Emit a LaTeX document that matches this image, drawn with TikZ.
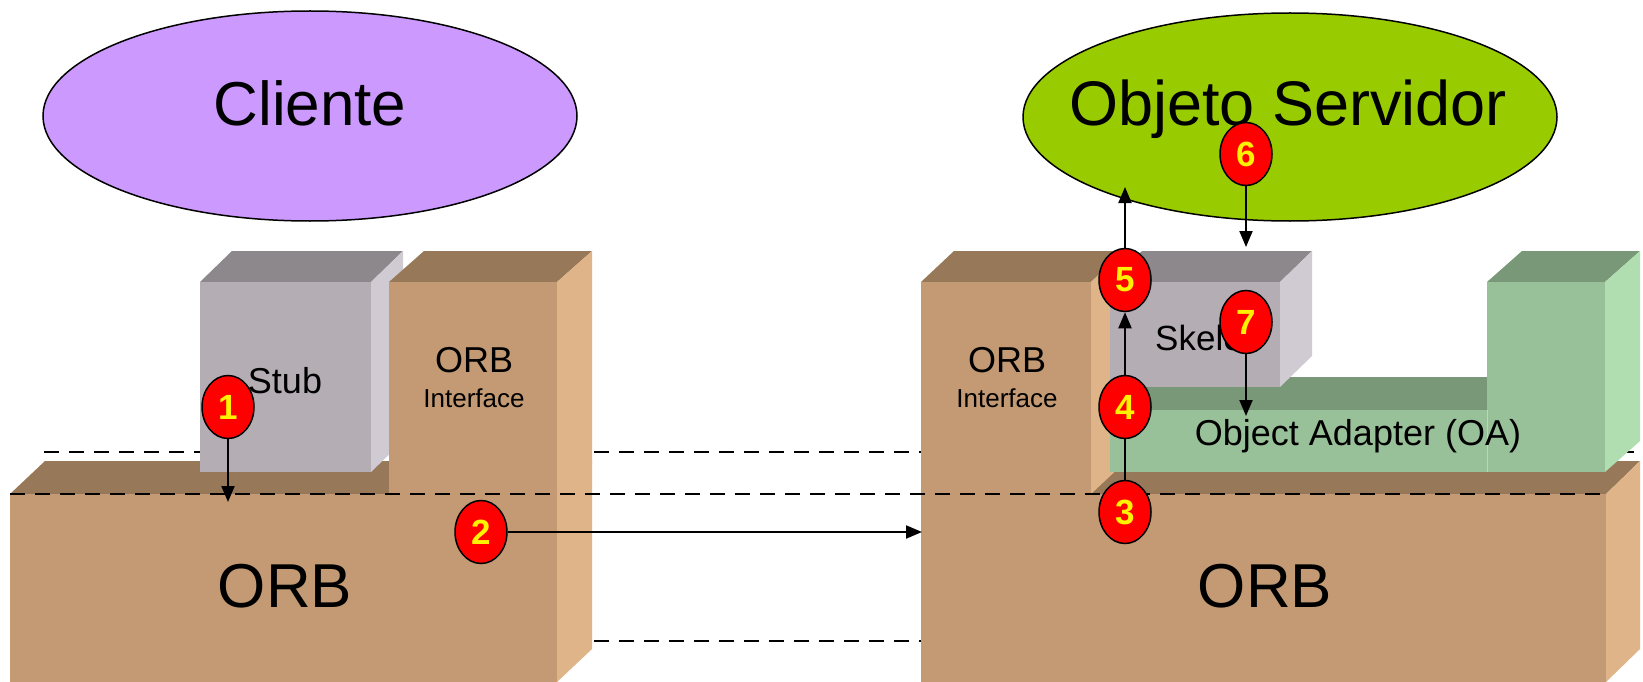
\documentclass[tikz,border=0pt]{standalone}
\usepackage{fontspec}
\setmainfont{Liberation Sans}
\usetikzlibrary{arrows.meta,shapes.geometric}
\definecolor{orbF}{RGB}{195,154,115}
\definecolor{orbT}{RGB}{151,120,88}
\definecolor{orbS}{RGB}{223,180,136}
\definecolor{stbF}{RGB}{180,174,180}
\definecolor{stbT}{RGB}{140,136,140}
\definecolor{stbS}{RGB}{208,202,211}
\definecolor{oaF}{RGB}{153,193,153}
\definecolor{oaT}{RGB}{120,152,120}
\definecolor{oaS}{RGB}{177,222,177}
\definecolor{cliFill}{RGB}{204,153,255}
\definecolor{srvFill}{RGB}{153,204,0}
\newcommand\fsz[1]{\fontsize{#1}{#1}\selectfont}
% cuboid: x1 y1 (front top-left), x2 y2 (front bottom-right), dx dy (depth), front, top, side colours
\newcommand\cuboid[9]{%
  \fill[#8] (#1,#2) -- (#1+#5,#2-#6) -- (#3+#5,#2-#6) -- (#3,#2) -- cycle;
  \fill[#9] (#3,#2) -- (#3+#5,#2-#6) -- (#3+#5,#4-#6) -- (#3,#4) -- cycle;
  \fill[#7] (#1,#2) rectangle (#3,#4);}
\begin{document}
\begin{tikzpicture}[x=1pt,y=-1pt,
  lab/.style={inner sep=0pt,text=black},
  num/.style={ellipse,draw=black,line width=1.5pt,fill=red,minimum width=52pt,
    minimum height=63pt,inner sep=0pt,text=yellow,font={\fsz{35}\bfseries}},
  blob/.style={ellipse,draw=black,line width=1.5pt,inner sep=0pt},
  dash line/.style={line width=2pt,dash pattern=on 15pt off 10pt},
  arr/.style={line width=2pt,-{Triangle[length=16pt,width=13pt]}},
  plain/.style={line width=2pt}]
\useasboundingbox (0,0) rectangle (1643,682);
\fill[white] (0,0) rectangle (1643,682);
% dashed lines behind the blocks
\draw[dash line] (44,452) -- (1643,452);
\draw[dash line] (44,641) -- (1643,641);
% ellipses
\node[blob,fill=cliFill,minimum width=534pt,minimum height=210pt] (cliE) at (310,116) {};
\node[blob,fill=srvFill,minimum width=534pt,minimum height=208pt] (srvE) at (1290,117) {};
\node[lab,anchor=base] (cliente) at (310,125) {\fsz{62}Cliente};
\node[lab,anchor=base] (servidor) at (1288,125) {\fsz{63}Objeto Servidor};
% left side blocks
\cuboid{10}{494}{557}{682}{35}{33}{orbF}{orbT}{orbS}
\cuboid{200}{282}{371}{472}{32}{31}{stbF}{stbT}{stbS}
\cuboid{389}{282}{557}{494}{35}{31}{orbF}{orbT}{orbS}
% right side blocks
\cuboid{921}{494}{1606}{682}{34}{33}{orbF}{orbT}{orbS}
\cuboid{921}{282}{1091}{494}{33}{31}{orbF}{orbT}{orbS}
\fill[oaT] (1110,410) -- (1143,377) -- (1522,377) -- (1487,410) -- cycle;
\fill[oaF] (1110,410) rectangle (1487,472);
\cuboid{1487}{282}{1605}{472}{35}{31}{oaF}{oaT}{oaS}
\draw[white,opacity=0.35,line width=1pt] (1487,410) -- (1487,472);
\cuboid{1110}{282}{1280}{387}{32}{31}{stbF}{stbT}{stbS}
% labels
\node[lab,anchor=base] (stub) at (285,393) {\fsz{36}Stub};
\node[lab,anchor=base] (orbIL) at (474,372) {\fsz{36}ORB};
\node[lab,anchor=base] (ifL) at (474,407) {\fsz{26}Interface};
\node[lab,anchor=base] (orbIR) at (1007,372) {\fsz{36}ORB};
\node[lab,anchor=base] (ifR) at (1007,407) {\fsz{26}Interface};
\node[lab,anchor=base] (orbL) at (285,607) {\fsz{62}ORB};
\node[lab,anchor=base] (orbR) at (1265,607) {\fsz{62}ORB};
\node[lab,anchor=base] (oa) at (1358,445) {\fsz{36}Object Adapter (OA)};
\begin{scope}
  \clip (1110,282) rectangle (1246,387);
  \node[lab,anchor=base west] (skel) at (1155,350) {\fsz{35}Skeleton};
\end{scope}
% dashed line over the blocks
\draw[dash line] (10,494) -- (1606,494);
% numbered markers
\node[num] (c1) at (228,407) {1};
\node[num] (c2) at (481,532) {2};
\node[num] (c3) at (1125,512) {3};
\node[num] (c4) at (1125,407) {4};
\node[num] (c5) at (1125,280) {5};
\node[num] (c6) at (1246,154) {6};
\node[num] (c7) at (1246,322) {7};
\coordinate (t1) at (228,502);
\coordinate (t2) at (922,532);
\coordinate (t5) at (1125,187);
\coordinate (t6) at (1246,247);
\coordinate (t7) at (1246,416);
\draw[arr] (c1) -- (t1);
\draw[arr] (c2) -- (t2);
\draw[plain] (c3) -- (c4);
\draw[arr] (c4) -- (c5);
\draw[arr] (c5) -- (t5);
\draw[arr] (c6) -- (t6);
\draw[arr] (c7) -- (t7);
\end{tikzpicture}
\end{document}
